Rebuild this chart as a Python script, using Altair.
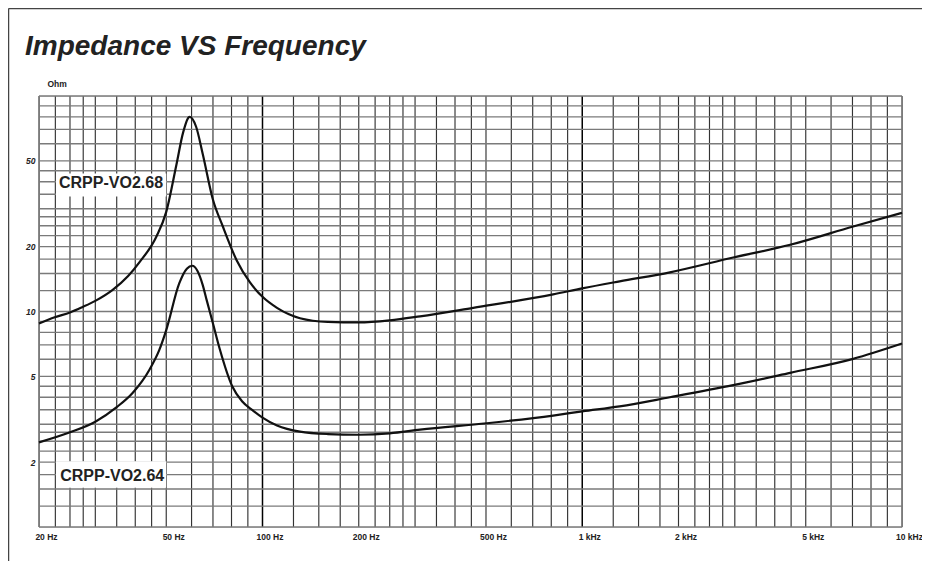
import altair as alt
import pandas as pd

# ---------------- data ----------------
freq_68 = [20, 22.4, 25, 27.4, 30, 34, 38, 41.2, 46.6, 50, 53.8, 56.5, 59.2, 62, 65,
           70, 75, 83, 91.5, 100, 111, 121, 131, 160, 200, 250, 311, 456, 811, 1000, 1309,
           1880, 2966, 4470, 7036, 10000]
ohm_68 = [8.8, 9.4, 9.9, 10.5, 11.2, 12.6, 14.6, 16.9, 22.3, 29, 48, 68, 80, 72, 54,
          33, 25.0, 17.3, 13.6, 11.7, 10.4, 9.7, 9.3, 8.95, 8.9, 9.1, 9.5, 10.4, 12.0, 12.8, 13.8,
          15.2, 17.8, 20.4, 24.8, 28.7]

freq_64 = [20, 25, 30, 35, 39.3, 44.4, 47.5, 50, 54.9, 58, 60.3, 62.5, 65, 67, 70,
           73.5, 80.4, 86.3, 93.4, 100, 111, 131, 160, 200, 250, 311, 503, 811, 1000, 1309,
           1880, 2966, 4470, 7036, 10000]
ohm_64 = [2.47, 2.75, 3.08, 3.6, 4.2, 5.4, 6.6, 8.2, 13.5, 15.8, 16.3, 15.5, 13.3, 11.2, 8.8,
          6.7, 4.5, 3.83, 3.47, 3.22, 2.96, 2.77, 2.7, 2.68, 2.72, 2.83, 3.03, 3.29, 3.44, 3.63,
          4.0, 4.55, 5.19, 6.03, 7.1]

series_names = ["CRPP-VO2.68", "CRPP-VO2.64"]

# labels (text, anchor frequency, anchor ohm) and their white boxes
label_text = ["CRPP-VO2.68", "CRPP-VO2.64"]
label_f = [23.1, 23.3]
label_ohm = [37.5, 1.63]
box_f0 = [22.6, 22.6]
box_f1 = [50, 50]
box_o0 = [34.2, 1.52]
box_o1 = [43.7, 2.02]

# grid pattern per decade (same on both axes)
grid_mult = [1, 1.25, 1.5, 1.75, 2, 2.25, 2.5, 2.75, 3, 3.5, 4, 4.5, 5, 6, 7, 8, 9]
x_decades = [10, 100, 1000]
y_decades = [1, 10]
x_major = [100, 1000]

x_tick_values = [20, 50, 100, 200, 500, 1000, 2000, 5000, 10000]
x_tick_labels = ["20 Hz", "50 Hz", "100 Hz", "200 Hz", "500 Hz", "1 kHz", "2 kHz", "5 kHz", "10 kHz"]
y_tick_values = [2, 5, 10, 20, 50]
y_tick_labels = ["2", "5", "10", "20", "50"]

X_MIN, X_MAX = 20, 10000
Y_MIN, Y_MAX = 1, 100

# ---------------- tables ----------------
curves = pd.concat([
    pd.DataFrame({"f": freq_68, "ohm": ohm_68, "series": series_names[0]}),
    pd.DataFrame({"f": freq_64, "ohm": ohm_64, "series": series_names[1]}),
])

xg = sorted({round(d * m, 6) for d in x_decades for m in grid_mult if X_MIN <= d * m <= X_MAX} | {X_MAX})
xgrid = pd.DataFrame({"f": xg, "major": [v in x_major for v in xg]})
yg = sorted({round(d * m, 6) for d in y_decades for m in grid_mult if Y_MIN <= d * m <= Y_MAX} | {Y_MAX})
ygrid = pd.DataFrame({"ohm": yg})

labels = pd.DataFrame({"text": label_text, "f": label_f, "ohm": label_ohm,
                       "f0": box_f0, "f1": box_f1, "o0": box_o0, "o1": box_o1})

xscale = alt.Scale(type="log", domain=[X_MIN, X_MAX], nice=False)
yscale = alt.Scale(type="log", domain=[Y_MIN, Y_MAX], nice=False)

FONT = "Liberation Sans"

x_expr = " : ".join(
    [f"datum.value == {v} ? '{t}'" for v, t in zip(x_tick_values, x_tick_labels)] + ["''"])
y_expr = " : ".join(
    [f"datum.value == {v} ? '{t}'" for v, t in zip(y_tick_values, y_tick_labels)] + ["''"])

x_axis = alt.Axis(values=x_tick_values, labelExpr=x_expr, grid=False, ticks=False, domain=False,
                  labelFont=FONT, labelFontSize=8.5, labelFontWeight="bold", labelColor="#222",
                  labelPadding=5, labelOffset=7, labelFlush=False, title=None)
y_axis = alt.Axis(values=y_tick_values, labelExpr=y_expr, grid=False, ticks=False, domain=False,
                  labelFont=FONT, labelFontSize=8.5, labelFontWeight="bold", labelFontStyle="italic",
                  labelColor="#222", labelPadding=4, title="Ohm", titleAngle=0, titleX=8, titleY=-10,
                  titleAlign="left", titleBaseline="alphabetic", titleFont=FONT, titleFontSize=8.5,
                  titleFontWeight="bold", titleColor="#222")

vgrid = alt.Chart(xgrid).mark_rule().encode(
    x=alt.X("f:Q", scale=xscale, axis=x_axis),
    color=alt.condition("datum.major", alt.value("#000000"), alt.value("#333333")),
    strokeWidth=alt.condition("datum.major", alt.value(1.5), alt.value(1.15)),
)
hgrid = alt.Chart(ygrid).mark_rule(color="#7a7a7a", strokeWidth=1.4).encode(
    y=alt.Y("ohm:Q", scale=yscale, axis=y_axis),
)

lines = alt.Chart(curves).mark_line(color="#111111", strokeWidth=2.2, interpolate="monotone").encode(
    x=alt.X("f:Q", scale=xscale),
    y=alt.Y("ohm:Q", scale=yscale),
    detail="series:N",
)

boxes = alt.Chart(labels).mark_rect(color="white").encode(
    x=alt.X("f0:Q", scale=xscale), x2="f1:Q",
    y=alt.Y("o0:Q", scale=yscale), y2="o1:Q",
)
texts = alt.Chart(labels).mark_text(align="left", baseline="alphabetic", font=FONT,
                                    fontSize=16, fontWeight="bold", color="#222").encode(
    x=alt.X("f:Q", scale=xscale),
    y=alt.Y("ohm:Q", scale=yscale),
    text="text:N",
)

one = pd.DataFrame({"k": [0]})
border_top = alt.Chart(one).mark_rule(color="#444", strokeWidth=1.5).encode(
    x=alt.value(-30.5), x2=alt.value(900), y=alt.value(-87.5))
border_left = alt.Chart(one).mark_rule(color="#444", strokeWidth=1.5).encode(
    x=alt.value(-30.5), y=alt.value(-87.5), y2=alt.value(470))

chart = alt.layer(vgrid, hgrid, lines, boxes, texts, border_top, border_left).properties(
    width=863, height=431,
    title=alt.TitleParams(text="Impedance VS Frequency", anchor="start", frame="group", dx=-14,
                          offset=-75, baseline="alphabetic", font=FONT, fontSize=28,
                          fontStyle="italic", fontWeight="bold", color="#222"),
    autosize=alt.AutoSizeParams(type="none"),
    padding={"left": 31, "top": 88, "right": 20, "bottom": 34},
).configure_view(stroke=None).configure(background="white")

chart.save("out.html", embed_options={"renderer": "svg", "actions": False})
